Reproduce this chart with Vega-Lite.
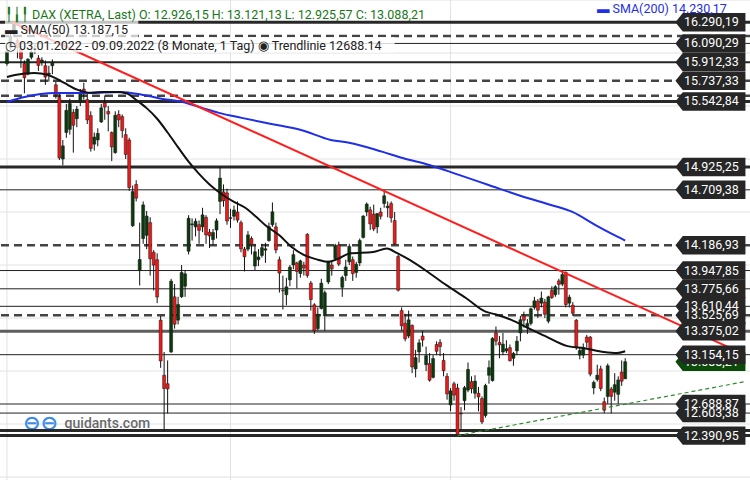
{
  "$schema": "https://vega.github.io/schema/vega-lite/v6.json",
  "width": 750,
  "height": 480,
  "autosize": {"type": "none"},
  "padding": 0,
  "background": "white",
  "title": {
    "text": "╿╽╿ DAX (XETRA, Last)  O: 12.926,15  H: 13.121,13  L: 12.925,57  C: 13.088,21",
    "subtitle": ["▬  SMA(50)  13.187,15", "◷  03.01.2022 - 09.09.2022  (8 Monate, 1 Tag)  ◉ Trendlinie  12688.14"],
    "anchor": "start",
    "frame": "group",
    "dx": 5,
    "offset": -53,
    "font": "Roboto",
    "fontSize": 12.5,
    "fontWeight": "normal",
    "color": "#177717",
    "subtitleFont": "Roboto",
    "subtitleFontSize": 12.5,
    "subtitleColor": "#222222",
    "subtitlePadding": 3,
    "subtitleLineHeight": 16,
    "zindex": 1
  },
  "datasets": {
    "hgrid": [{"v": 12000}, {"v": 12500}, {"v": 13000}, {"v": 13500}, {"v": 14000}, {"v": 14500}, {"v": 15000}, {"v": 15500}, {"v": 16000}, {"v": 16500}],
    "vgrid": [{"i": 0, "d": "2022-01-03"}, {"i": 64, "d": "2022-04-01"}, {"i": 127, "d": "2022-07-01"}],
    "lv_thin": [{"v": 16090.29}, {"v": 14709.38}, {"v": 13947.85}, {"v": 13775.66}, {"v": 13610.44}, {"v": 13154.15}, {"v": 12688.87}, {"v": 12603.38}],
    "lv_medium": [{"v": 15912.33}],
    "lv_thick": [{"v": 16290.19}, {"v": 15542.84}, {"v": 14925.25}, {"v": 12438.85}, {"v": 12390.95}],
    "lv_dashed": [{"v": 16161}, {"v": 15737.33}, {"v": 15597}, {"v": 14186.93}, {"v": 13525.69}],
    "lv_gray": [{"v": 13375.02}],
    "tags": [{"v": 16290.19}, {"v": 16090.29}, {"v": 15912.33}, {"v": 15737.33}, {"v": 15542.84}, {"v": 14925.25}, {"v": 14709.38}, {"v": 14186.93}, {"v": 13947.85}, {"v": 13775.66}, {"v": 13610.44}, {"v": 13525.69}, {"v": 13375.02}, {"v": 13154.15}, {"v": 12603.38}, {"v": 12688.87}, {"v": 12390.95}],
    "last": [{"v": 13088.21}],
    "trend_red": [{"i": 1.5, "v": 16290}, {"i": 211.3, "v": 13154}],
    "trend_green": [{"i": 129, "v": 12391}, {"i": 211.3, "v": 12900}],
    "sma50": [{"i": 0, "v": 15774}, {"i": 2.3, "v": 15793}, {"i": 7.9, "v": 15812}, {"i": 11.6, "v": 15795}, {"i": 13.6, "v": 15768}, {"i": 16.4, "v": 15718}, {"i": 20.1, "v": 15655}, {"i": 24, "v": 15625}, {"i": 27.7, "v": 15633}, {"i": 31.4, "v": 15633}, {"i": 34.2, "v": 15620}, {"i": 37, "v": 15557}, {"i": 40, "v": 15480}, {"i": 43, "v": 15380}, {"i": 46, "v": 15250}, {"i": 49, "v": 15110}, {"i": 52, "v": 14975}, {"i": 55, "v": 14860}, {"i": 58, "v": 14760}, {"i": 61, "v": 14680}, {"i": 65, "v": 14595}, {"i": 68, "v": 14545}, {"i": 71.5, "v": 14450}, {"i": 74, "v": 14375}, {"i": 78, "v": 14280}, {"i": 81.5, "v": 14170}, {"i": 85, "v": 14095}, {"i": 89, "v": 14050}, {"i": 92, "v": 14030}, {"i": 95, "v": 14062}, {"i": 98.3, "v": 14110}, {"i": 104.8, "v": 14123}, {"i": 108.8, "v": 14155}, {"i": 111.6, "v": 14114}, {"i": 115.3, "v": 14048}, {"i": 120.9, "v": 13925}, {"i": 125.7, "v": 13812}, {"i": 131.4, "v": 13689}, {"i": 137, "v": 13560}, {"i": 139.8, "v": 13535}, {"i": 144.4, "v": 13482}, {"i": 149.2, "v": 13406}, {"i": 154, "v": 13331}, {"i": 160.5, "v": 13235}, {"i": 165.3, "v": 13215}, {"i": 170.9, "v": 13180}, {"i": 174.6, "v": 13170}, {"i": 177, "v": 13187.15}],
    "sma200": [{"i": 0, "v": 15538}, {"i": 5, "v": 15585}, {"i": 13.6, "v": 15623}, {"i": 23, "v": 15623}, {"i": 32.5, "v": 15633}, {"i": 39, "v": 15604}, {"i": 44.6, "v": 15567}, {"i": 50.3, "v": 15538}, {"i": 55.9, "v": 15482}, {"i": 60.7, "v": 15435}, {"i": 67.2, "v": 15388}, {"i": 75.7, "v": 15331}, {"i": 84.2, "v": 15274}, {"i": 92.7, "v": 15180}, {"i": 98.3, "v": 15152}, {"i": 107.6, "v": 15067}, {"i": 113.3, "v": 15010}, {"i": 120.9, "v": 14944}, {"i": 129.4, "v": 14850}, {"i": 137.9, "v": 14755}, {"i": 146.3, "v": 14661}, {"i": 154.8, "v": 14576}, {"i": 161.9, "v": 14501}, {"i": 168.9, "v": 14369}, {"i": 173.2, "v": 14293}, {"i": 177, "v": 14230.17}],
    "ohlc": [
      {"d": "2022-01-03", "i": 0, "o": 15900, "h": 16066, "l": 15880, "c": 16021},
      {"d": "2022-01-04", "i": 1, "o": 16050, "h": 16197, "l": 16030, "c": 16153},
      {"d": "2022-01-05", "i": 2, "o": 16180, "h": 16285, "l": 16150, "c": 16272},
      {"d": "2022-01-06", "i": 3, "o": 16120, "h": 16140, "l": 15950, "c": 16052},
      {"d": "2022-01-07", "i": 4, "o": 16040, "h": 16080, "l": 15860, "c": 15948},
      {"d": "2022-01-10", "i": 5, "o": 15900, "h": 15930, "l": 15620, "c": 15768},
      {"d": "2022-01-11", "i": 6, "o": 15800, "h": 15950, "l": 15790, "c": 15942},
      {"d": "2022-01-12", "i": 7, "o": 15960, "h": 16070, "l": 15940, "c": 16010},
      {"d": "2022-01-13", "i": 8, "o": 16040, "h": 16090, "l": 15990, "c": 16032},
      {"d": "2022-01-14", "i": 9, "o": 15950, "h": 15980, "l": 15830, "c": 15883},
      {"d": "2022-01-17", "i": 10, "o": 15910, "h": 15960, "l": 15880, "c": 15934},
      {"d": "2022-01-18", "i": 11, "o": 15880, "h": 15930, "l": 15700, "c": 15773},
      {"d": "2022-01-19", "i": 12, "o": 15800, "h": 15880, "l": 15730, "c": 15810},
      {"d": "2022-01-20", "i": 13, "o": 15880, "h": 15940, "l": 15800, "c": 15912},
      {"d": "2022-01-21", "i": 14, "o": 15700, "h": 15730, "l": 15570, "c": 15604},
      {"d": "2022-01-24", "i": 15, "o": 15580, "h": 15620, "l": 14990, "c": 15011},
      {"d": "2022-01-25", "i": 16, "o": 15000, "h": 15180, "l": 14940, "c": 15124},
      {"d": "2022-01-26", "i": 17, "o": 15250, "h": 15520, "l": 15200, "c": 15459},
      {"d": "2022-01-27", "i": 18, "o": 15280, "h": 15570, "l": 15230, "c": 15524},
      {"d": "2022-01-28", "i": 19, "o": 15440, "h": 15470, "l": 15060, "c": 15319},
      {"d": "2022-01-31", "i": 20, "o": 15380, "h": 15500, "l": 15300, "c": 15471},
      {"d": "2022-02-01", "i": 21, "o": 15540, "h": 15660, "l": 15500, "c": 15619},
      {"d": "2022-02-02", "i": 22, "o": 15660, "h": 15720, "l": 15560, "c": 15614},
      {"d": "2022-02-03", "i": 23, "o": 15560, "h": 15620, "l": 15330, "c": 15368},
      {"d": "2022-02-04", "i": 24, "o": 15410, "h": 15450, "l": 15070, "c": 15100},
      {"d": "2022-02-07", "i": 25, "o": 15140, "h": 15250, "l": 15080, "c": 15207},
      {"d": "2022-02-08", "i": 26, "o": 15180, "h": 15290, "l": 15120, "c": 15242},
      {"d": "2022-02-09", "i": 27, "o": 15350, "h": 15520, "l": 15340, "c": 15483},
      {"d": "2022-02-10", "i": 28, "o": 15530, "h": 15600, "l": 15370, "c": 15490},
      {"d": "2022-02-11", "i": 29, "o": 15450, "h": 15500, "l": 15260, "c": 15425},
      {"d": "2022-02-14", "i": 30, "o": 15250, "h": 15260, "l": 14980, "c": 15114},
      {"d": "2022-02-15", "i": 31, "o": 15060, "h": 15450, "l": 15050, "c": 15413},
      {"d": "2022-02-16", "i": 32, "o": 15420, "h": 15460, "l": 15300, "c": 15370},
      {"d": "2022-02-17", "i": 33, "o": 15400, "h": 15420, "l": 15200, "c": 15268},
      {"d": "2022-02-18", "i": 34, "o": 15230, "h": 15290, "l": 15000, "c": 15043},
      {"d": "2022-02-21", "i": 35, "o": 15180, "h": 15200, "l": 14700, "c": 14731},
      {"d": "2022-02-22", "i": 36, "o": 14370, "h": 14750, "l": 14360, "c": 14693},
      {"d": "2022-02-23", "i": 37, "o": 14760, "h": 14800, "l": 14600, "c": 14631},
      {"d": "2022-02-24", "i": 38, "o": 13950, "h": 14400, "l": 13807, "c": 14052},
      {"d": "2022-02-25", "i": 39, "o": 14250, "h": 14600, "l": 14200, "c": 14567},
      {"d": "2022-02-28", "i": 40, "o": 14280, "h": 14510, "l": 14150, "c": 14461},
      {"d": "2022-03-01", "i": 41, "o": 14400, "h": 14450, "l": 13900, "c": 14059},
      {"d": "2022-03-02", "i": 42, "o": 14120, "h": 14140, "l": 13760, "c": 13999},
      {"d": "2022-03-03", "i": 43, "o": 14050, "h": 14110, "l": 13640, "c": 13698},
      {"d": "2022-03-04", "i": 44, "o": 13480, "h": 13520, "l": 13030, "c": 13095},
      {"d": "2022-03-07", "i": 45, "o": 12960, "h": 13180, "l": 12439, "c": 12835},
      {"d": "2022-03-08", "i": 46, "o": 12880, "h": 13100, "l": 12600, "c": 12832},
      {"d": "2022-03-09", "i": 47, "o": 13180, "h": 13870, "l": 13170, "c": 13848},
      {"d": "2022-03-10", "i": 48, "o": 13700, "h": 13820, "l": 13400, "c": 13442},
      {"d": "2022-03-11", "i": 49, "o": 13480, "h": 13700, "l": 13440, "c": 13628},
      {"d": "2022-03-14", "i": 50, "o": 13700, "h": 14000, "l": 13690, "c": 13929},
      {"d": "2022-03-15", "i": 51, "o": 13800, "h": 13950, "l": 13700, "c": 13917},
      {"d": "2022-03-16", "i": 52, "o": 14130, "h": 14470, "l": 14100, "c": 14441},
      {"d": "2022-03-17", "i": 53, "o": 14380, "h": 14440, "l": 14230, "c": 14388},
      {"d": "2022-03-18", "i": 54, "o": 14360, "h": 14440, "l": 14270, "c": 14413},
      {"d": "2022-03-21", "i": 55, "o": 14380, "h": 14420, "l": 14200, "c": 14327},
      {"d": "2022-03-22", "i": 56, "o": 14360, "h": 14540, "l": 14310, "c": 14473},
      {"d": "2022-03-23", "i": 57, "o": 14450, "h": 14470, "l": 14200, "c": 14284},
      {"d": "2022-03-24", "i": 58, "o": 14310, "h": 14340, "l": 14160, "c": 14274},
      {"d": "2022-03-25", "i": 59, "o": 14240, "h": 14340, "l": 14190, "c": 14306},
      {"d": "2022-03-28", "i": 60, "o": 14330, "h": 14440, "l": 14250, "c": 14417},
      {"d": "2022-03-29", "i": 61, "o": 14600, "h": 14925, "l": 14480, "c": 14820},
      {"d": "2022-03-30", "i": 62, "o": 14690, "h": 14760, "l": 14550, "c": 14606},
      {"d": "2022-03-31", "i": 63, "o": 14680, "h": 14720, "l": 14380, "c": 14415},
      {"d": "2022-04-01", "i": 64, "o": 14440, "h": 14530, "l": 14350, "c": 14446},
      {"d": "2022-04-04", "i": 65, "o": 14460, "h": 14560, "l": 14420, "c": 14519},
      {"d": "2022-04-05", "i": 66, "o": 14500, "h": 14600, "l": 14400, "c": 14424},
      {"d": "2022-04-06", "i": 67, "o": 14400, "h": 14420, "l": 14120, "c": 14152},
      {"d": "2022-04-07", "i": 68, "o": 14150, "h": 14170, "l": 13940, "c": 14078},
      {"d": "2022-04-08", "i": 69, "o": 14150, "h": 14320, "l": 14130, "c": 14284},
      {"d": "2022-04-11", "i": 70, "o": 14250, "h": 14270, "l": 14100, "c": 14193},
      {"d": "2022-04-12", "i": 71, "o": 13990, "h": 14200, "l": 13950, "c": 14125},
      {"d": "2022-04-13", "i": 72, "o": 14050, "h": 14150, "l": 13990, "c": 14076},
      {"d": "2022-04-14", "i": 73, "o": 14090, "h": 14200, "l": 14070, "c": 14164},
      {"d": "2022-04-19", "i": 74, "o": 14140, "h": 14210, "l": 14020, "c": 14153},
      {"d": "2022-04-20", "i": 75, "o": 14230, "h": 14400, "l": 14220, "c": 14362},
      {"d": "2022-04-21", "i": 76, "o": 14380, "h": 14590, "l": 14360, "c": 14502},
      {"d": "2022-04-22", "i": 77, "o": 14360, "h": 14400, "l": 14110, "c": 14142},
      {"d": "2022-04-25", "i": 78, "o": 14050, "h": 14080, "l": 13740, "c": 13924},
      {"d": "2022-04-26", "i": 79, "o": 13760, "h": 13900, "l": 13580, "c": 13756},
      {"d": "2022-04-27", "i": 80, "o": 13720, "h": 13880, "l": 13620, "c": 13794},
      {"d": "2022-04-28", "i": 81, "o": 13860, "h": 14000, "l": 13800, "c": 13980},
      {"d": "2022-04-29", "i": 82, "o": 14000, "h": 14140, "l": 13960, "c": 14098},
      {"d": "2022-05-02", "i": 83, "o": 14020, "h": 14030, "l": 13780, "c": 13939},
      {"d": "2022-05-03", "i": 84, "o": 13920, "h": 14050, "l": 13880, "c": 14039},
      {"d": "2022-05-04", "i": 85, "o": 14000, "h": 14030, "l": 13900, "c": 13971},
      {"d": "2022-05-05", "i": 86, "o": 14290, "h": 14300, "l": 13880, "c": 13902},
      {"d": "2022-05-06", "i": 87, "o": 13830, "h": 13850, "l": 13570, "c": 13674},
      {"d": "2022-05-09", "i": 88, "o": 13625, "h": 13640, "l": 13350, "c": 13381},
      {"d": "2022-05-10", "i": 89, "o": 13400, "h": 13600, "l": 13380, "c": 13535},
      {"d": "2022-05-11", "i": 90, "o": 13590, "h": 13870, "l": 13580, "c": 13829},
      {"d": "2022-05-12", "i": 91, "o": 13520, "h": 13760, "l": 13380, "c": 13739},
      {"d": "2022-05-13", "i": 92, "o": 13840, "h": 14040, "l": 13820, "c": 14028},
      {"d": "2022-05-16", "i": 93, "o": 14000, "h": 14040, "l": 13900, "c": 13964},
      {"d": "2022-05-17", "i": 94, "o": 14060, "h": 14200, "l": 14040, "c": 14186},
      {"d": "2022-05-18", "i": 95, "o": 14190, "h": 14220, "l": 13990, "c": 14008},
      {"d": "2022-05-19", "i": 96, "o": 13790, "h": 13900, "l": 13700, "c": 13883},
      {"d": "2022-05-20", "i": 97, "o": 13900, "h": 14050, "l": 13850, "c": 13982},
      {"d": "2022-05-23", "i": 98, "o": 14030, "h": 14200, "l": 14000, "c": 14175},
      {"d": "2022-05-24", "i": 99, "o": 14050, "h": 14080, "l": 13850, "c": 13919},
      {"d": "2022-05-25", "i": 100, "o": 13930, "h": 14030, "l": 13880, "c": 14008},
      {"d": "2022-05-26", "i": 101, "o": 14020, "h": 14250, "l": 13990, "c": 14231},
      {"d": "2022-05-27", "i": 102, "o": 14260, "h": 14470, "l": 14250, "c": 14462},
      {"d": "2022-05-30", "i": 103, "o": 14500, "h": 14590, "l": 14460, "c": 14575},
      {"d": "2022-05-31", "i": 104, "o": 14520, "h": 14550, "l": 14330, "c": 14388},
      {"d": "2022-06-01", "i": 105, "o": 14480, "h": 14570, "l": 14320, "c": 14340},
      {"d": "2022-06-02", "i": 106, "o": 14360, "h": 14490, "l": 14300, "c": 14485},
      {"d": "2022-06-03", "i": 107, "o": 14500, "h": 14540, "l": 14430, "c": 14460},
      {"d": "2022-06-06", "i": 108, "o": 14580, "h": 14709, "l": 14540, "c": 14653},
      {"d": "2022-06-07", "i": 109, "o": 14540, "h": 14600, "l": 14450, "c": 14556},
      {"d": "2022-06-08", "i": 110, "o": 14580, "h": 14600, "l": 14400, "c": 14446},
      {"d": "2022-06-09", "i": 111, "o": 14420, "h": 14500, "l": 14190, "c": 14199},
      {"d": "2022-06-10", "i": 112, "o": 14080, "h": 14100, "l": 13750, "c": 13762},
      {"d": "2022-06-13", "i": 113, "o": 13570, "h": 13600, "l": 13380, "c": 13427},
      {"d": "2022-06-14", "i": 114, "o": 13450, "h": 13540, "l": 13280, "c": 13304},
      {"d": "2022-06-15", "i": 115, "o": 13330, "h": 13570, "l": 13310, "c": 13483},
      {"d": "2022-06-16", "i": 116, "o": 13430, "h": 13440, "l": 12980, "c": 13038},
      {"d": "2022-06-17", "i": 117, "o": 13020, "h": 13200, "l": 12940, "c": 13126},
      {"d": "2022-06-20", "i": 118, "o": 13180, "h": 13300, "l": 13080, "c": 13266},
      {"d": "2022-06-21", "i": 119, "o": 13330, "h": 13380, "l": 13230, "c": 13292},
      {"d": "2022-06-22", "i": 120, "o": 13060, "h": 13230, "l": 13000, "c": 13145},
      {"d": "2022-06-23", "i": 121, "o": 13070, "h": 13170, "l": 12900, "c": 12913},
      {"d": "2022-06-24", "i": 122, "o": 12940, "h": 13150, "l": 12930, "c": 13118},
      {"d": "2022-06-27", "i": 123, "o": 13250, "h": 13280, "l": 13150, "c": 13186},
      {"d": "2022-06-28", "i": 124, "o": 13270, "h": 13300, "l": 13140, "c": 13231},
      {"d": "2022-06-29", "i": 125, "o": 13100, "h": 13170, "l": 12950, "c": 13003},
      {"d": "2022-06-30", "i": 126, "o": 12950, "h": 12980, "l": 12730, "c": 12784},
      {"d": "2022-07-01", "i": 127, "o": 12680, "h": 12840, "l": 12620, "c": 12813},
      {"d": "2022-07-04", "i": 128, "o": 12880, "h": 12900, "l": 12720, "c": 12773},
      {"d": "2022-07-05", "i": 129, "o": 12840, "h": 12880, "l": 12391, "c": 12401},
      {"d": "2022-07-06", "i": 130, "o": 12600, "h": 12660, "l": 12450, "c": 12595},
      {"d": "2022-07-07", "i": 131, "o": 12720, "h": 12860, "l": 12630, "c": 12843},
      {"d": "2022-07-08", "i": 132, "o": 12820, "h": 13080, "l": 12800, "c": 13015},
      {"d": "2022-07-11", "i": 133, "o": 12900, "h": 12950, "l": 12790, "c": 12832},
      {"d": "2022-07-12", "i": 134, "o": 12790, "h": 12960, "l": 12740, "c": 12905},
      {"d": "2022-07-13", "i": 135, "o": 12790, "h": 12850, "l": 12620, "c": 12756},
      {"d": "2022-07-14", "i": 136, "o": 12740, "h": 12760, "l": 12500, "c": 12520},
      {"d": "2022-07-15", "i": 137, "o": 12580, "h": 12880, "l": 12560, "c": 12864},
      {"d": "2022-07-18", "i": 138, "o": 12960, "h": 13100, "l": 12880, "c": 13032},
      {"d": "2022-07-19", "i": 139, "o": 12910, "h": 13320, "l": 12900, "c": 13308},
      {"d": "2022-07-20", "i": 140, "o": 13360, "h": 13420, "l": 13240, "c": 13282},
      {"d": "2022-07-21", "i": 141, "o": 13270, "h": 13330, "l": 13120, "c": 13247},
      {"d": "2022-07-22", "i": 142, "o": 13180, "h": 13360, "l": 13150, "c": 13254},
      {"d": "2022-07-25", "i": 143, "o": 13190, "h": 13290, "l": 13170, "c": 13210},
      {"d": "2022-07-26", "i": 144, "o": 13220, "h": 13250, "l": 13090, "c": 13097},
      {"d": "2022-07-27", "i": 145, "o": 13120, "h": 13180, "l": 13050, "c": 13166},
      {"d": "2022-07-28", "i": 146, "o": 13190, "h": 13330, "l": 13150, "c": 13282},
      {"d": "2022-07-29", "i": 147, "o": 13360, "h": 13520, "l": 13280, "c": 13484},
      {"d": "2022-08-01", "i": 148, "o": 13520, "h": 13560, "l": 13410, "c": 13479},
      {"d": "2022-08-02", "i": 149, "o": 13420, "h": 13490, "l": 13350, "c": 13449},
      {"d": "2022-08-03", "i": 150, "o": 13450, "h": 13600, "l": 13430, "c": 13587},
      {"d": "2022-08-04", "i": 151, "o": 13600, "h": 13700, "l": 13580, "c": 13662},
      {"d": "2022-08-05", "i": 152, "o": 13660, "h": 13680, "l": 13500, "c": 13574},
      {"d": "2022-08-08", "i": 153, "o": 13640, "h": 13750, "l": 13600, "c": 13688},
      {"d": "2022-08-09", "i": 154, "o": 13650, "h": 13680, "l": 13500, "c": 13535},
      {"d": "2022-08-10", "i": 155, "o": 13470, "h": 13710, "l": 13450, "c": 13700},
      {"d": "2022-08-11", "i": 156, "o": 13760, "h": 13800, "l": 13680, "c": 13694},
      {"d": "2022-08-12", "i": 157, "o": 13720, "h": 13810, "l": 13700, "c": 13795},
      {"d": "2022-08-15", "i": 158, "o": 13850, "h": 13870, "l": 13720, "c": 13817},
      {"d": "2022-08-16", "i": 159, "o": 13820, "h": 13948, "l": 13800, "c": 13910},
      {"d": "2022-08-17", "i": 160, "o": 13930, "h": 13940, "l": 13600, "c": 13627},
      {"d": "2022-08-18", "i": 161, "o": 13640, "h": 13720, "l": 13600, "c": 13697},
      {"d": "2022-08-19", "i": 162, "o": 13620, "h": 13650, "l": 13520, "c": 13544},
      {"d": "2022-08-22", "i": 163, "o": 13480, "h": 13490, "l": 13200, "c": 13230},
      {"d": "2022-08-23", "i": 164, "o": 13150, "h": 13220, "l": 13110, "c": 13194},
      {"d": "2022-08-24", "i": 165, "o": 13150, "h": 13260, "l": 13120, "c": 13220},
      {"d": "2022-08-25", "i": 166, "o": 13320, "h": 13340, "l": 13220, "c": 13272},
      {"d": "2022-08-26", "i": 167, "o": 13320, "h": 13330, "l": 12950, "c": 12971},
      {"d": "2022-08-29", "i": 168, "o": 12840, "h": 12910, "l": 12780, "c": 12893},
      {"d": "2022-08-30", "i": 169, "o": 12920, "h": 13060, "l": 12900, "c": 12961},
      {"d": "2022-08-31", "i": 170, "o": 13020, "h": 13050, "l": 12810, "c": 12835},
      {"d": "2022-09-01", "i": 171, "o": 12710, "h": 12750, "l": 12603, "c": 12630},
      {"d": "2022-09-02", "i": 172, "o": 12760, "h": 13070, "l": 12690, "c": 13050},
      {"d": "2022-09-05", "i": 173, "o": 12830, "h": 12850, "l": 12600, "c": 12761},
      {"d": "2022-09-06", "i": 174, "o": 12800, "h": 12980, "l": 12720, "c": 12871},
      {"d": "2022-09-07", "i": 175, "o": 12780, "h": 12950, "l": 12689, "c": 12916},
      {"d": "2022-09-08", "i": 176, "o": 12990, "h": 13100, "l": 12860, "c": 12904},
      {"d": "2022-09-09", "i": 177, "o": 12926.15, "h": 13121.13, "l": 12925.57, "c": 13088.21}
    ]
  },
  "layer": [
    {
      "data": {"name": "hgrid"},
      "mark": {"type": "rule", "color": "#e2e2e2", "strokeWidth": 1},
      "encoding": {
        "y": {"field": "v", "type": "quantitative", "scale": {"domain": [11972, 16500], "nice": false, "zero": false},
          "axis": {"orient": "left", "offset": -750, "values": [12000, 12500, 13000, 13500, 14000, 14500, 15000, 15500, 16000, 16500], "format": ",.2f", "grid": false, "domain": false, "tickSize": 5, "tickColor": "#333333", "labelFont": "Roboto", "labelFontSize": 12.5, "labelColor": "#333333", "labelPadding": 2, "labelFlush": false, "labelBound": false, "labelOverlap": false, "title": null}}
      }
    },
    {
      "data": {"name": "vgrid"},
      "mark": {"type": "rule", "color": "#e2e2e2", "strokeWidth": 1},
      "encoding": {
        "x": {"field": "i", "type": "quantitative", "scale": {"domain": [-0.56, 211.3], "nice": false, "zero": false},
          "axis": {"orient": "top", "offset": -480, "values": [0, 64, 127], "labelExpr": "datum.value == 0 ? \"Jan '22\" : datum.value == 64 ? 'Apr' : 'Jul'", "grid": false, "domain": true, "domainColor": "#dddddd", "tickSize": 4, "tickColor": "#333333", "labelFont": "Roboto", "labelFontSize": 12.5, "labelColor": "#333333", "labelPadding": 2, "labelFlush": 5, "labelOverlap": false, "title": null}}
      }
    },
    {
      "data": {"values": [{}]},
      "mark": {"type": "text", "text": "⊖⊖", "font": "DejaVu Sans", "fontSize": 21, "fontWeight": "bold", "color": "#3d8be8", "align": "center", "baseline": "middle"},
      "encoding": {
        "x": {"datum": 9.6, "type": "quantitative", "scale": {"domain": [-0.56, 211.3], "nice": false, "zero": false}, "axis": null},
        "y": {"datum": 12500, "type": "quantitative", "scale": {"domain": [11972, 16500], "nice": false, "zero": false}, "axis": null}
      }
    },
    {
      "data": {"values": [{}]},
      "mark": {"type": "text", "text": "guidants.com", "font": "Roboto", "fontSize": 14, "fontWeight": 500, "color": "#6a6a6a", "align": "left", "baseline": "middle"},
      "encoding": {
        "x": {"datum": 16.5, "type": "quantitative", "scale": {"domain": [-0.56, 211.3], "nice": false, "zero": false}, "axis": null},
        "y": {"datum": 12500, "type": "quantitative", "scale": {"domain": [11972, 16500], "nice": false, "zero": false}, "axis": null}
      }
    },
    {
      "data": {"name": "lv_thin"},
      "mark": {"type": "rule", "color": "#222222", "strokeWidth": 1},
      "encoding": {"y": {"field": "v", "type": "quantitative", "scale": {"domain": [11972, 16500], "nice": false, "zero": false}, "axis": null}}
    },
    {
      "data": {"name": "lv_medium"},
      "mark": {"type": "rule", "color": "#262626", "strokeWidth": 2},
      "encoding": {"y": {"field": "v", "type": "quantitative", "scale": {"domain": [11972, 16500], "nice": false, "zero": false}, "axis": null}}
    },
    {
      "data": {"name": "lv_thick"},
      "mark": {"type": "rule", "color": "#282828", "strokeWidth": 3},
      "encoding": {"y": {"field": "v", "type": "quantitative", "scale": {"domain": [11972, 16500], "nice": false, "zero": false}, "axis": null}}
    },
    {
      "data": {"name": "lv_dashed"},
      "mark": {"type": "rule", "color": "#444444", "strokeWidth": 2.5, "strokeDash": [8, 5]},
      "encoding": {"y": {"field": "v", "type": "quantitative", "scale": {"domain": [11972, 16500], "nice": false, "zero": false}, "axis": null}}
    },
    {
      "data": {"name": "lv_gray"},
      "mark": {"type": "rule", "color": "#5e5e5e", "strokeWidth": 3},
      "encoding": {"y": {"field": "v", "type": "quantitative", "scale": {"domain": [11972, 16500], "nice": false, "zero": false}, "axis": null}}
    },
    {
      "data": {"name": "ohlc"},
      "mark": {"type": "rule", "color": "#111111", "strokeWidth": 1},
      "encoding": {
        "x": {"field": "i", "type": "quantitative", "scale": {"domain": [-0.56, 211.3], "nice": false, "zero": false}, "axis": null},
        "y": {"field": "l", "type": "quantitative", "scale": {"domain": [11972, 16500], "nice": false, "zero": false}, "axis": null},
        "y2": {"field": "h"}
      }
    },
    {
      "data": {"name": "ohlc"},
      "mark": {"type": "bar", "width": 3, "stroke": "#151515", "strokeWidth": 0.5},
      "encoding": {
        "x": {"field": "i", "type": "quantitative", "scale": {"domain": [-0.56, 211.3], "nice": false, "zero": false}, "axis": null},
        "y": {"field": "o", "type": "quantitative", "scale": {"domain": [11972, 16500], "nice": false, "zero": false}, "axis": null},
        "y2": {"field": "c"},
        "color": {"condition": {"test": "datum.c >= datum.o", "value": "#0b3a0d"}, "value": "#f01818"}
      }
    },
    {
      "data": {"name": "sma200"},
      "mark": {"type": "line", "color": "#1f2fe6", "strokeWidth": 2, "interpolate": "monotone"},
      "encoding": {
        "x": {"field": "i", "type": "quantitative", "scale": {"domain": [-0.56, 211.3], "nice": false, "zero": false}, "axis": null},
        "y": {"field": "v", "type": "quantitative", "scale": {"domain": [11972, 16500], "nice": false, "zero": false}, "axis": null}
      }
    },
    {
      "data": {"name": "sma50"},
      "mark": {"type": "line", "color": "#111111", "strokeWidth": 2, "interpolate": "monotone"},
      "encoding": {
        "x": {"field": "i", "type": "quantitative", "scale": {"domain": [-0.56, 211.3], "nice": false, "zero": false}, "axis": null},
        "y": {"field": "v", "type": "quantitative", "scale": {"domain": [11972, 16500], "nice": false, "zero": false}, "axis": null}
      }
    },
    {
      "data": {"name": "trend_red"},
      "mark": {"type": "line", "color": "#ff1f1f", "strokeWidth": 2},
      "encoding": {
        "x": {"field": "i", "type": "quantitative", "scale": {"domain": [-0.56, 211.3], "nice": false, "zero": false}, "axis": null},
        "y": {"field": "v", "type": "quantitative", "scale": {"domain": [11972, 16500], "nice": false, "zero": false}, "axis": null}
      }
    },
    {
      "data": {"name": "trend_green"},
      "mark": {"type": "line", "color": "#2e8b2e", "strokeWidth": 1.2, "strokeDash": [4, 3]},
      "encoding": {
        "x": {"field": "i", "type": "quantitative", "scale": {"domain": [-0.56, 211.3], "nice": false, "zero": false}, "axis": null},
        "y": {"field": "v", "type": "quantitative", "scale": {"domain": [11972, 16500], "nice": false, "zero": false}, "axis": null}
      }
    },
    {
      "data": {"values": [{}]},
      "mark": {"type": "rect", "color": "white", "opacity": 0.72},
      "encoding": {
        "x": {"datum": -0.56, "type": "quantitative", "scale": {"domain": [-0.56, 211.3], "nice": false, "zero": false}, "axis": null},
        "x2": {"datum": 37.6},
        "y": {"datum": 16314, "type": "quantitative", "scale": {"domain": [11972, 16500], "nice": false, "zero": false}, "axis": null},
        "y2": {"datum": 16152}
      }
    },
    {
      "data": {"values": [{}]},
      "mark": {"type": "rect", "color": "white", "opacity": 0.8},
      "encoding": {
        "x": {"datum": -0.56, "type": "quantitative", "scale": {"domain": [-0.56, 211.3], "nice": false, "zero": false}, "axis": null},
        "x2": {"datum": 111},
        "y": {"datum": 16152, "type": "quantitative", "scale": {"domain": [11972, 16500], "nice": false, "zero": false}, "axis": null},
        "y2": {"datum": 16005}
      }
    },
    {
      "data": {"name": "last"},
      "mark": {"type": "point", "shape": "M-1,0L-0.79,-0.263L1,-0.263L1,0.263L-0.79,0.263Z", "size": 4900, "filled": true, "opacity": 1, "color": "#0c4a0c", "strokeWidth": 0},
      "encoding": {
        "x": {"datum": 201.4, "type": "quantitative", "scale": {"domain": [-0.56, 211.3], "nice": false, "zero": false}, "axis": null},
        "y": {"field": "v", "type": "quantitative", "scale": {"domain": [11972, 16500], "nice": false, "zero": false}, "axis": null}
      }
    },
    {
      "data": {"name": "last"},
      "mark": {"type": "text", "color": "white", "font": "Roboto", "fontSize": 12.5, "align": "center", "baseline": "middle", "dx": 1},
      "encoding": {
        "x": {"datum": 201.4, "type": "quantitative", "scale": {"domain": [-0.56, 211.3], "nice": false, "zero": false}, "axis": null},
        "y": {"field": "v", "type": "quantitative", "scale": {"domain": [11972, 16500], "nice": false, "zero": false}, "axis": null},
        "text": {"field": "v", "type": "quantitative", "format": ",.2f"}
      }
    },
    {
      "data": {"name": "tags"},
      "mark": {"type": "point", "shape": "M-1,0L-0.79,-0.263L1,-0.263L1,0.263L-0.79,0.263Z", "size": 4900, "filled": true, "opacity": 1, "color": "#262626", "strokeWidth": 0},
      "encoding": {
        "x": {"datum": 201.4, "type": "quantitative", "scale": {"domain": [-0.56, 211.3], "nice": false, "zero": false}, "axis": null},
        "y": {"field": "v", "type": "quantitative", "scale": {"domain": [11972, 16500], "nice": false, "zero": false}, "axis": null}
      }
    },
    {
      "data": {"name": "tags"},
      "mark": {"type": "text", "color": "white", "font": "Roboto", "fontSize": 12.5, "align": "center", "baseline": "middle", "dx": 1},
      "encoding": {
        "x": {"datum": 201.4, "type": "quantitative", "scale": {"domain": [-0.56, 211.3], "nice": false, "zero": false}, "axis": null},
        "y": {"field": "v", "type": "quantitative", "scale": {"domain": [11972, 16500], "nice": false, "zero": false}, "axis": null},
        "text": {"field": "v", "type": "quantitative", "format": ",.2f"}
      }
    },
    {
      "data": {"values": [{}]},
      "mark": {"type": "text", "text": "▬  SMA(200)  14.230,17", "font": "Roboto", "fontSize": 12.5, "color": "#1f2fe6", "align": "left", "baseline": "middle"},
      "encoding": {
        "x": {"datum": 168.9, "type": "quantitative", "scale": {"domain": [-0.56, 211.3], "nice": false, "zero": false}, "axis": null},
        "y": {"datum": 16418, "type": "quantitative", "scale": {"domain": [11972, 16500], "nice": false, "zero": false}, "axis": null}
      }
    }
  ],
  "config": {
    "view": {"stroke": null},
    "font": "Roboto",
    "locale": {"number": {"decimal": ",", "thousands": ".", "grouping": [3], "currency": ["", " €"]}}
  }
}
